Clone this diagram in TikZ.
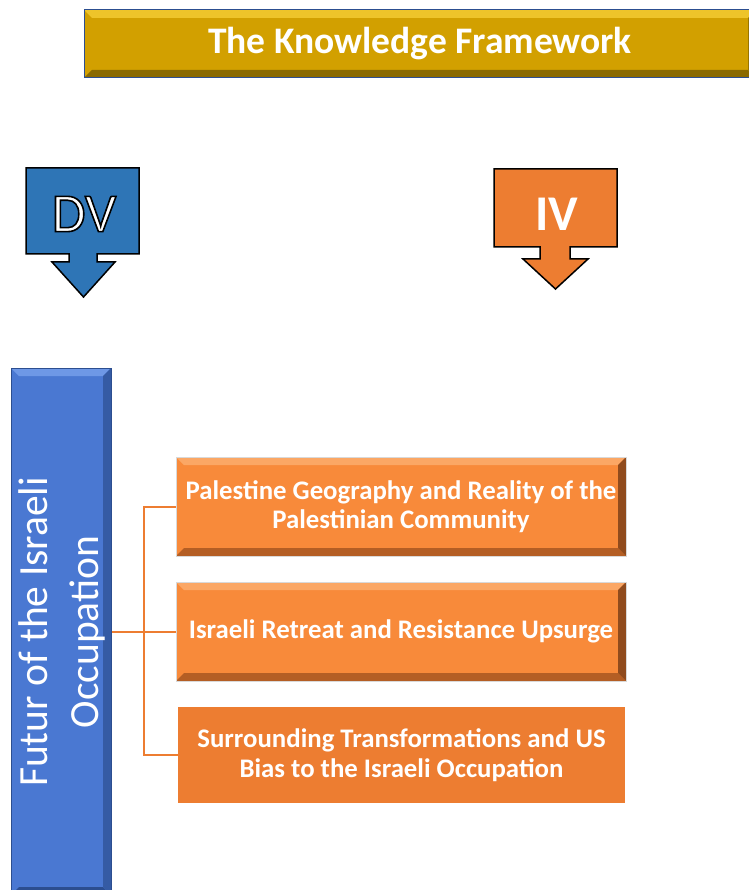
\documentclass[tikz,border=0pt]{standalone}
\usepackage{fontspec}
\setmainfont{Carlito}

\definecolor{gold}{HTML}{D2A000}
\definecolor{goldlight}{HTML}{EEC42A}
\definecolor{golddark}{HTML}{8A6A00}
\definecolor{dvblue}{HTML}{2E75B6}
\definecolor{occblue}{HTML}{4A78D2}
\definecolor{occlight}{HTML}{6E98E6}
\definecolor{occdark}{HTML}{2C4E90}
\definecolor{ivorange}{HTML}{ED7D31}
\definecolor{boxorange}{HTML}{F88A3A}
\definecolor{boxlight}{HTML}{FBA765}
\definecolor{boxdark}{HTML}{B45E24}

\tikzset{
  bevel/.style n args={3}{path picture={
    \fill[#1] (path picture bounding box.north west) -- (path picture bounding box.north east)
      -- ([shift={(-8,-8)}]path picture bounding box.north east) -- ([shift={(8,-8)}]path picture bounding box.north west) -- cycle;
    \fill[#2] (path picture bounding box.south west) -- (path picture bounding box.south east)
      -- ([shift={(-8,8)}]path picture bounding box.south east) -- ([shift={(8,8)}]path picture bounding box.south west) -- cycle;
    \fill[#3] (path picture bounding box.north east) -- (path picture bounding box.south east)
      -- ([shift={(-8,8)}]path picture bounding box.south east) -- ([shift={(-8,-8)}]path picture bounding box.north east) -- cycle;
  }},
  topic/.style={rectangle, minimum width=450, minimum height=99, align=center,
    text=white, font=\bfseries\fontsize{26.8}{29.5}\selectfont, inner sep=0pt},
  link/.style={draw=ivorange, line width=2pt}
}

\begin{document}
\begin{tikzpicture}[x=1pt, y=1pt]
    \useasboundingbox (0,0) rectangle (748,-890);

    % title
    \node[rectangle, fill=gold, draw=occdark, line width=1pt, minimum width=672, minimum height=68,
          bevel={goldlight}{golddark}{golddark!80!gold}, text=white,
          font=\bfseries\fontsize{37.5}{40}\selectfont] (title) at (420,-44) {The Knowledge Framework};

    % down arrows
    \draw[fill=dvblue, line width=1.5pt] (26,-168) -- (139,-168) -- (139,-254) -- (97,-254) -- (97,-262)
        -- (115,-262) -- (83.5,-297) -- (52,-262) -- (69,-262) -- (69,-254) -- (26,-254) -- cycle;
    \node[text=white, font=\fontsize{55}{60}\selectfont] (dv) at (84,-214)
        {\special{pdf:literal direct 2 Tr 1.6 w 0 0 0 RG}DV\special{pdf:literal direct 0 Tr}};

    \draw[fill=ivorange, line width=1.5pt] (494,-169) -- (617,-169) -- (617,-247) -- (570,-247) -- (570,-259)
        -- (588,-259) -- (555.5,-289) -- (523,-259) -- (540,-259) -- (540,-247) -- (494,-247) -- cycle;
    \node[text=white, font=\bfseries\fontsize{50}{56}\selectfont] (iv) at (557,-214) {IV};

    % dependent variable
    \node[rectangle, fill=occblue, draw=occdark, line width=1pt, minimum width=100, minimum height=527,
          bevel={occlight}{occdark}{occdark!70!occblue}] (occbox) at (61,-631.5) {};
    \node[rotate=90, text=white, align=center, font=\fontsize{41.5}{51}\selectfont] (occtext) at (62,-632)
        {Futur of the Israeli\\Occupation};

    % independent variables
    \node[topic, fill=boxorange, draw=black!15, line width=1pt, bevel={boxlight}{boxdark}{boxdark!80!black}]
        (geo) at (401,-506.5) {Palestine Geography and Reality of the\\Palestinian Community};
    \node[topic, fill=boxorange, draw=black!15, line width=1pt, bevel={boxlight}{boxdark}{boxdark!80!black}]
        (retreat) at (401,-631.5) {Israeli Retreat and Resistance Upsurge};
    \node[topic, fill=ivorange, minimum width=447, minimum height=96]
        (bias) at (401.5,-755) {Surrounding Transformations and US\\Bias to the Israeli Occupation};

    % connectors
    \coordinate (bus) at (144,0);
    \draw[link] (occbox.east) -- (retreat.west);
    \draw[link] (geo.west) -- (geo.west -| bus) -- (bias.west -| bus) -- (bias.west);
\end{tikzpicture}
\end{document}
